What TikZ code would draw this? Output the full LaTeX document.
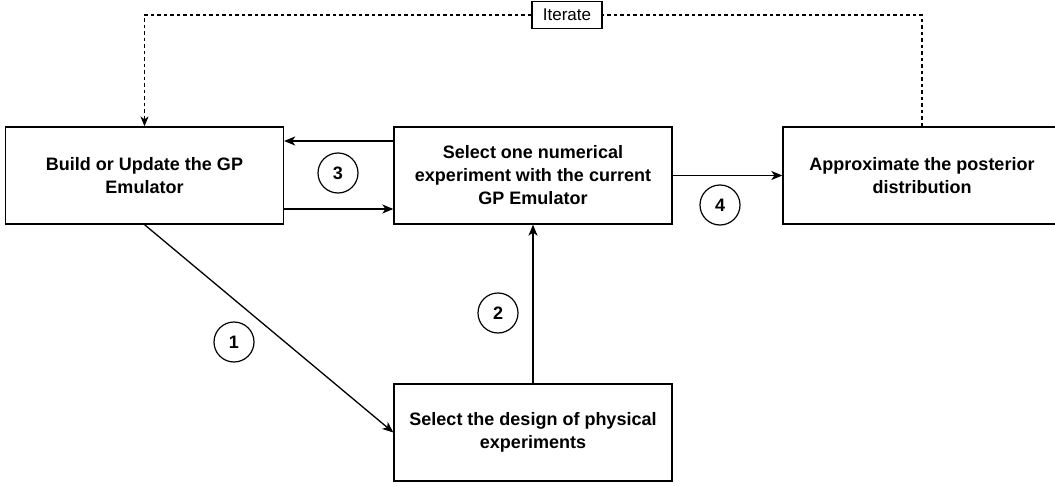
\documentclass[tikz,border=0pt]{standalone}
\usepackage{fontspec}
\setmainfont{Liberation Sans}
\usetikzlibrary{arrows.meta,positioning}
\tikzset{every node/.append style={transform shape=false}}
\tikzset{
  stepbox/.style={draw, line width=1.3pt, minimum width=278pt, minimum height=97pt,
    align=center, font=\fontsize{18}{23}\selectfont\bfseries},
  num/.style={draw, circle, line width=1.2pt, minimum size=40pt, inner sep=0pt,
    font=\fontsize{18}{18}\selectfont\bfseries},
  arr/.style={line width=1.3pt, -{Stealth[length=11pt,width=9pt,inset=3pt]}},
  loopline/.style={line width=1.1pt, dash pattern=on 3.5pt off 3pt}
}

\begin{document}
\begin{tikzpicture}[x=1pt,y=-1pt]
  \useasboundingbox (0,0) rectangle (1055,487);

  \node[stepbox] (build) at (144.5,175.5) {Build or Update the GP\\Emulator};
  \node[stepbox] (numexp) at (533,175.5) {Select one numerical\\experiment with the current\\GP Emulator};
  \node[stepbox] (post) at (922,175.5) {Approximate the posterior\\distribution};
  \node[stepbox] (design) at (533,432.5) {Select the design of physical\\experiments};

  \node[draw, line width=1.2pt, minimum width=70pt, minimum height=27pt, inner sep=0pt,
    font=\fontsize{17}{17}\selectfont] (iter) at (567,15) {Iterate};

  % loop back
  \draw[loopline] (post.north) |- (iter.east);
  \draw[loopline,-{Stealth[length=10pt,width=8pt,inset=3pt]}] (iter.west) -| (build.north);

  \draw[arr] ([yshift=-33.5pt]build.east) -- ([yshift=-33.5pt]numexp.west);
  \draw[arr] ([yshift=34.5pt]numexp.west) -- ([yshift=34.5pt]build.east);
  \draw[arr] (numexp.east) -- (post.west);
  \draw[arr] (build.south) -- (design.west);
  \draw[arr] (design.north) -- (numexp.south);

  \node[num] (n1) at (234,342) {1};
  \node[num] (n2) at (498,313) {2};
  \node[num] (n3) at (338,173) {3};
  \node[num] (n4) at (720,205) {4};

\end{tikzpicture}
\end{document}
